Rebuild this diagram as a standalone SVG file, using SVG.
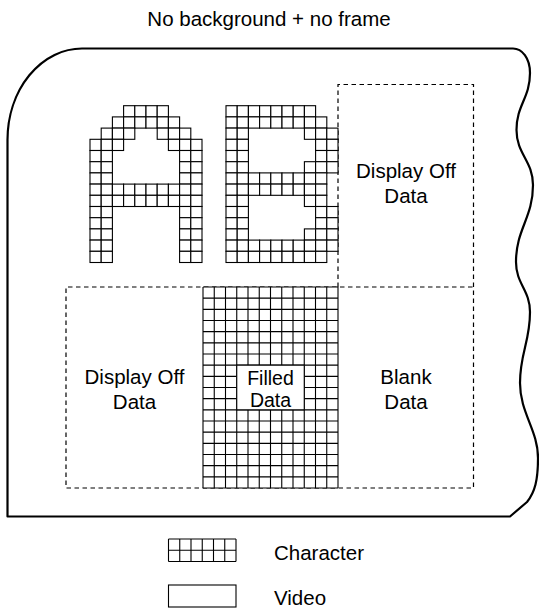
<svg xmlns="http://www.w3.org/2000/svg" xmlns:xlink="http://www.w3.org/1999/xlink" width="539" height="610" viewBox="0 0 539 610">
<style>
text{font-family:"Liberation Sans",Arial,Helvetica,sans-serif;font-size:20.5px;fill:#000}
.mid{text-anchor:middle}
.small{font-size:19.5px}
.cell{fill:#fff;stroke:#000;stroke-width:1.1}
.frame{fill:#fff;stroke:#000;stroke-width:2.2;stroke-linejoin:round}
.dash{fill:none;stroke:#000;stroke-width:1.2;stroke-dasharray:4.5 3.5}
.grid{fill:none;stroke:#000;stroke-width:1.1}
</style>
<defs>
<rect id="c" class="cell" width="11.2" height="11.2"/>
</defs>
<rect width="539" height="610" fill="#fff"/>
<text id="title" class="mid" x="269" y="26">No background + no frame</text>

<g id="screen">
<path class="frame" d="M7.5,516.5 V140 A74.5,91.5 0 0 1 82,48.5 H513 C522,48.5 530,58 530,73 C530,98 516.5,105 516.5,130 C516.5,154 533,161 533,185 C533,218 516,229 516,262 C516,284 530,290 530,312 C530,342 520,353 520,383 C520,413 538,430 538,458 C538,480 535,492 527,502 L510,516.5 Z"/>
</g>

<g id="connectors">
<path class="dash" d="M338,287 V84.5 H473.5 V488 H66 V287 H473.5"/>
</g>

<g id="char-A">
<use xlink:href="#c" x="123.6" y="105.7"/><use xlink:href="#c" x="134.8" y="105.7"/><use xlink:href="#c" x="146" y="105.7"/><use xlink:href="#c" x="157.2" y="105.7"/>
<use xlink:href="#c" x="112.4" y="116.9"/><use xlink:href="#c" x="123.6" y="116.9"/><use xlink:href="#c" x="134.8" y="116.9"/><use xlink:href="#c" x="146" y="116.9"/><use xlink:href="#c" x="157.2" y="116.9"/><use xlink:href="#c" x="168.4" y="116.9"/>
<use xlink:href="#c" x="101.2" y="128.1"/><use xlink:href="#c" x="112.4" y="128.1"/><use xlink:href="#c" x="123.6" y="128.1"/><use xlink:href="#c" x="157.2" y="128.1"/><use xlink:href="#c" x="168.4" y="128.1"/><use xlink:href="#c" x="179.6" y="128.1"/>
<use xlink:href="#c" x="90" y="139.3"/><use xlink:href="#c" x="101.2" y="139.3"/><use xlink:href="#c" x="112.4" y="139.3"/><use xlink:href="#c" x="168.4" y="139.3"/><use xlink:href="#c" x="179.6" y="139.3"/><use xlink:href="#c" x="190.8" y="139.3"/>
<use xlink:href="#c" x="90" y="150.5"/><use xlink:href="#c" x="101.2" y="150.5"/><use xlink:href="#c" x="179.6" y="150.5"/><use xlink:href="#c" x="190.8" y="150.5"/>
<use xlink:href="#c" x="90" y="161.7"/><use xlink:href="#c" x="101.2" y="161.7"/><use xlink:href="#c" x="179.6" y="161.7"/><use xlink:href="#c" x="190.8" y="161.7"/>
<use xlink:href="#c" x="90" y="172.9"/><use xlink:href="#c" x="101.2" y="172.9"/><use xlink:href="#c" x="179.6" y="172.9"/><use xlink:href="#c" x="190.8" y="172.9"/>
<use xlink:href="#c" x="90" y="184.1"/><use xlink:href="#c" x="101.2" y="184.1"/><use xlink:href="#c" x="112.4" y="184.1"/><use xlink:href="#c" x="123.6" y="184.1"/><use xlink:href="#c" x="134.8" y="184.1"/><use xlink:href="#c" x="146" y="184.1"/><use xlink:href="#c" x="157.2" y="184.1"/><use xlink:href="#c" x="168.4" y="184.1"/><use xlink:href="#c" x="179.6" y="184.1"/><use xlink:href="#c" x="190.8" y="184.1"/>
<use xlink:href="#c" x="90" y="195.3"/><use xlink:href="#c" x="101.2" y="195.3"/><use xlink:href="#c" x="112.4" y="195.3"/><use xlink:href="#c" x="123.6" y="195.3"/><use xlink:href="#c" x="134.8" y="195.3"/><use xlink:href="#c" x="146" y="195.3"/><use xlink:href="#c" x="157.2" y="195.3"/><use xlink:href="#c" x="168.4" y="195.3"/><use xlink:href="#c" x="179.6" y="195.3"/><use xlink:href="#c" x="190.8" y="195.3"/>
<use xlink:href="#c" x="90" y="206.5"/><use xlink:href="#c" x="101.2" y="206.5"/><use xlink:href="#c" x="179.6" y="206.5"/><use xlink:href="#c" x="190.8" y="206.5"/>
<use xlink:href="#c" x="90" y="217.7"/><use xlink:href="#c" x="101.2" y="217.7"/><use xlink:href="#c" x="179.6" y="217.7"/><use xlink:href="#c" x="190.8" y="217.7"/>
<use xlink:href="#c" x="90" y="228.9"/><use xlink:href="#c" x="101.2" y="228.9"/><use xlink:href="#c" x="179.6" y="228.9"/><use xlink:href="#c" x="190.8" y="228.9"/>
<use xlink:href="#c" x="90" y="240.1"/><use xlink:href="#c" x="101.2" y="240.1"/><use xlink:href="#c" x="179.6" y="240.1"/><use xlink:href="#c" x="190.8" y="240.1"/>
<use xlink:href="#c" x="90" y="251.3"/><use xlink:href="#c" x="101.2" y="251.3"/><use xlink:href="#c" x="179.6" y="251.3"/><use xlink:href="#c" x="190.8" y="251.3"/>
</g>

<g id="char-B">
<use xlink:href="#c" x="226" y="105.7"/><use xlink:href="#c" x="237.2" y="105.7"/><use xlink:href="#c" x="248.4" y="105.7"/><use xlink:href="#c" x="259.6" y="105.7"/><use xlink:href="#c" x="270.8" y="105.7"/><use xlink:href="#c" x="282" y="105.7"/><use xlink:href="#c" x="293.2" y="105.7"/><use xlink:href="#c" x="304.4" y="105.7"/>
<use xlink:href="#c" x="226" y="116.9"/><use xlink:href="#c" x="237.2" y="116.9"/><use xlink:href="#c" x="248.4" y="116.9"/><use xlink:href="#c" x="259.6" y="116.9"/><use xlink:href="#c" x="270.8" y="116.9"/><use xlink:href="#c" x="282" y="116.9"/><use xlink:href="#c" x="293.2" y="116.9"/><use xlink:href="#c" x="304.4" y="116.9"/><use xlink:href="#c" x="315.6" y="116.9"/>
<use xlink:href="#c" x="226" y="128.1"/><use xlink:href="#c" x="237.2" y="128.1"/><use xlink:href="#c" x="304.4" y="128.1"/><use xlink:href="#c" x="315.6" y="128.1"/><use xlink:href="#c" x="326.8" y="128.1"/>
<use xlink:href="#c" x="226" y="139.3"/><use xlink:href="#c" x="237.2" y="139.3"/><use xlink:href="#c" x="315.6" y="139.3"/><use xlink:href="#c" x="326.8" y="139.3"/>
<use xlink:href="#c" x="226" y="150.5"/><use xlink:href="#c" x="237.2" y="150.5"/><use xlink:href="#c" x="315.6" y="150.5"/><use xlink:href="#c" x="326.8" y="150.5"/>
<use xlink:href="#c" x="226" y="161.7"/><use xlink:href="#c" x="237.2" y="161.7"/><use xlink:href="#c" x="304.4" y="161.7"/><use xlink:href="#c" x="315.6" y="161.7"/><use xlink:href="#c" x="326.8" y="161.7"/>
<use xlink:href="#c" x="226" y="172.9"/><use xlink:href="#c" x="237.2" y="172.9"/><use xlink:href="#c" x="248.4" y="172.9"/><use xlink:href="#c" x="259.6" y="172.9"/><use xlink:href="#c" x="270.8" y="172.9"/><use xlink:href="#c" x="282" y="172.9"/><use xlink:href="#c" x="293.2" y="172.9"/><use xlink:href="#c" x="304.4" y="172.9"/><use xlink:href="#c" x="315.6" y="172.9"/>
<use xlink:href="#c" x="226" y="184.1"/><use xlink:href="#c" x="237.2" y="184.1"/><use xlink:href="#c" x="248.4" y="184.1"/><use xlink:href="#c" x="259.6" y="184.1"/><use xlink:href="#c" x="270.8" y="184.1"/><use xlink:href="#c" x="282" y="184.1"/><use xlink:href="#c" x="293.2" y="184.1"/><use xlink:href="#c" x="304.4" y="184.1"/><use xlink:href="#c" x="315.6" y="184.1"/>
<use xlink:href="#c" x="226" y="195.3"/><use xlink:href="#c" x="237.2" y="195.3"/><use xlink:href="#c" x="304.4" y="195.3"/><use xlink:href="#c" x="315.6" y="195.3"/>
<use xlink:href="#c" x="226" y="206.5"/><use xlink:href="#c" x="237.2" y="206.5"/><use xlink:href="#c" x="315.6" y="206.5"/><use xlink:href="#c" x="326.8" y="206.5"/>
<use xlink:href="#c" x="226" y="217.7"/><use xlink:href="#c" x="237.2" y="217.7"/><use xlink:href="#c" x="315.6" y="217.7"/><use xlink:href="#c" x="326.8" y="217.7"/>
<use xlink:href="#c" x="226" y="228.9"/><use xlink:href="#c" x="237.2" y="228.9"/><use xlink:href="#c" x="304.4" y="228.9"/><use xlink:href="#c" x="315.6" y="228.9"/><use xlink:href="#c" x="326.8" y="228.9"/>
<use xlink:href="#c" x="226" y="240.1"/><use xlink:href="#c" x="237.2" y="240.1"/><use xlink:href="#c" x="248.4" y="240.1"/><use xlink:href="#c" x="259.6" y="240.1"/><use xlink:href="#c" x="270.8" y="240.1"/><use xlink:href="#c" x="282" y="240.1"/><use xlink:href="#c" x="293.2" y="240.1"/><use xlink:href="#c" x="304.4" y="240.1"/><use xlink:href="#c" x="315.6" y="240.1"/><use xlink:href="#c" x="326.8" y="240.1"/>
<use xlink:href="#c" x="226" y="251.3"/><use xlink:href="#c" x="237.2" y="251.3"/><use xlink:href="#c" x="248.4" y="251.3"/><use xlink:href="#c" x="259.6" y="251.3"/><use xlink:href="#c" x="270.8" y="251.3"/><use xlink:href="#c" x="282" y="251.3"/><use xlink:href="#c" x="293.2" y="251.3"/><use xlink:href="#c" x="304.4" y="251.3"/><use xlink:href="#c" x="315.6" y="251.3"/>
</g>

<g id="display-off-right">
<text class="mid" x="406" y="177.5">Display Off</text>
<text class="mid" x="406" y="202.5">Data</text>
</g>

<g id="display-off-left">
<text class="mid" x="134.5" y="383.5">Display Off</text>
<text class="mid" x="134.5" y="408.5">Data</text>
</g>

<g id="blank-data">
<text class="mid" x="406" y="383.5">Blank</text>
<text class="mid" x="406" y="408.5">Data</text>
</g>

<g id="filled-data">
<rect x="203" y="287" width="135" height="201" fill="#fff"/>
<path class="grid" d="M203,287V488M214.25,287V488M225.5,287V488M236.75,287V488M248,287V488M259.25,287V488M270.5,287V488M281.75,287V488M293,287V488M304.25,287V488M315.5,287V488M326.75,287V488M338,287V488M203,287H338M203,298.17H338M203,309.33H338M203,320.5H338M203,331.67H338M203,342.83H338M203,354H338M203,365.17H338M203,376.33H338M203,387.5H338M203,398.67H338M203,409.83H338M203,421H338M203,432.17H338M203,443.33H338M203,454.5H338M203,465.67H338M203,476.83H338M203,488H338"/>
<rect x="236.75" y="365.17" width="67.5" height="44.66" fill="#fff" stroke="#000" stroke-width="1.1"/>
<text class="mid small" x="270.5" y="385">Filled</text>
<text class="mid small" x="270.5" y="406.5">Data</text>
</g>

<g id="legend-character">
<rect x="168.5" y="539" width="67.5" height="22.5" fill="#fff"/>
<path class="grid" d="M168.5,539H236M168.5,550.25H236M168.5,561.5H236M168.5,539V561.5M179.75,539V561.5M191,539V561.5M202.25,539V561.5M213.5,539V561.5M224.75,539V561.5M236,539V561.5"/>
<text x="274" y="559.5">Character</text>
</g>

<g id="legend-video">
<rect x="168.5" y="585" width="67.5" height="22" fill="#fff" stroke="#000" stroke-width="1.1"/>
<text x="274" y="605">Video</text>
</g>
</svg>
